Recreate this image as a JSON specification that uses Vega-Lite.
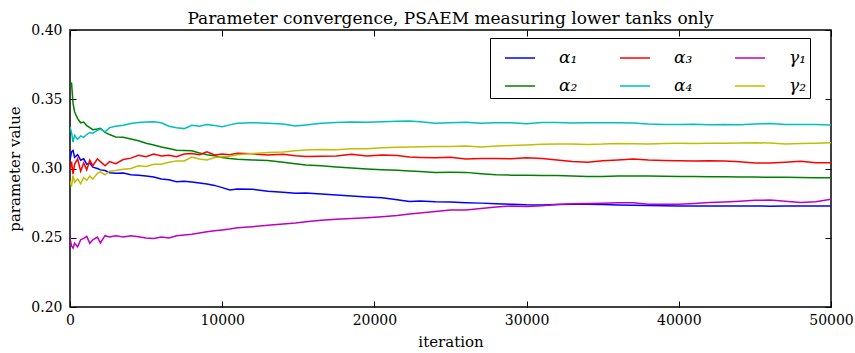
{
  "$schema": "https://vega.github.io/schema/vega-lite/v6.json",
  "width": 761,
  "height": 277,
  "autosize": {"type": "none"},
  "padding": {"left": 70, "top": 30, "right": 24, "bottom": 46},
  "background": "white",
  "config": {
    "view": {"stroke": "black", "strokeWidth": 1.5},
    "font": "DejaVu Serif",
    "axis": {"grid": false, "domain": false, "labelFlush": false, "labelOverlap": false, "tickColor": "black", "tickSize": -6, "tickWidth": 1, "labelFont": "DejaVu Serif", "labelFontSize": 14, "labelColor": "black", "titleFont": "DejaVu Serif", "titleFontSize": 15, "titleFontWeight": "normal", "titleColor": "black"}
  },
  "title": {"text": "Parameter convergence, PSAEM measuring lower tanks only", "font": "DejaVu Serif", "fontSize": 17, "fontWeight": "normal", "color": "black", "anchor": "middle", "baseline": "bottom", "offset": -22},
  "data": {"values": [
    {"it": 0, "α₁": 0.306, "α₂": 0.359, "α₃": 0.299, "α₄": 0.330, "γ₁": 0.250, "γ₂": 0.291},
    {"it": 100, "α₁": 0.312, "α₂": 0.362, "α₃": 0.305, "α₄": 0.326, "γ₁": 0.244, "γ₂": 0.287},
    {"it": 200, "α₁": 0.313, "α₂": 0.347, "α₃": 0.296, "α₄": 0.319, "γ₁": 0.2425, "γ₂": 0.295},
    {"it": 300, "α₁": 0.308, "α₂": 0.341, "α₃": 0.303, "α₄": 0.324, "γ₁": 0.246, "γ₂": 0.290},
    {"it": 500, "α₁": 0.310, "α₂": 0.336, "α₃": 0.307, "α₄": 0.321, "γ₁": 0.2435, "γ₂": 0.2925},
    {"it": 700, "α₁": 0.306, "α₂": 0.333, "α₃": 0.298, "α₄": 0.3235, "γ₁": 0.2485, "γ₂": 0.289},
    {"it": 900, "α₁": 0.307, "α₂": 0.3335, "α₃": 0.304, "α₄": 0.3225, "γ₁": 0.2495, "γ₂": 0.2935},
    {"it": 1100, "α₁": 0.303, "α₂": 0.331, "α₃": 0.299, "α₄": 0.3245, "γ₁": 0.251, "γ₂": 0.2915},
    {"it": 1300, "α₁": 0.304, "α₂": 0.3295, "α₃": 0.306, "α₄": 0.326, "γ₁": 0.246, "γ₂": 0.2945},
    {"it": 1500, "α₁": 0.301, "α₂": 0.328, "α₃": 0.302, "α₄": 0.3255, "γ₁": 0.2485, "γ₂": 0.2925},
    {"it": 1800, "α₁": 0.300, "α₂": 0.3285, "α₃": 0.307, "α₄": 0.3275, "γ₁": 0.2505, "γ₂": 0.2965},
    {"it": 2000, "α₁": 0.299, "α₂": 0.329, "α₃": 0.305, "α₄": 0.3285, "γ₁": 0.2462, "γ₂": 0.2975},
    {"it": 2300, "α₁": 0.2985, "α₂": 0.326, "α₃": 0.302, "α₄": 0.3265, "γ₁": 0.2515, "γ₂": 0.2955},
    {"it": 2600, "α₁": 0.297, "α₂": 0.3245, "α₃": 0.305, "α₄": 0.3295, "γ₁": 0.2505, "γ₂": 0.298},
    {"it": 3000, "α₁": 0.2965, "α₂": 0.3228, "α₃": 0.3035, "α₄": 0.3305, "γ₁": 0.2515, "γ₂": 0.2985},
    {"it": 3500, "α₁": 0.2968, "α₂": 0.3225, "α₃": 0.3065, "α₄": 0.3312, "γ₁": 0.2505, "γ₂": 0.2995},
    {"it": 4000, "α₁": 0.2955, "α₂": 0.3213, "α₃": 0.3075, "α₄": 0.3325, "γ₁": 0.2515, "γ₂": 0.300},
    {"it": 4500, "α₁": 0.2952, "α₂": 0.320, "α₃": 0.3095, "α₄": 0.3332, "γ₁": 0.2508, "γ₂": 0.302},
    {"it": 5000, "α₁": 0.2945, "α₂": 0.3182, "α₃": 0.3085, "α₄": 0.3335, "γ₁": 0.2498, "γ₂": 0.3015},
    {"it": 5500, "α₁": 0.2938, "α₂": 0.317, "α₃": 0.3105, "α₄": 0.3338, "γ₁": 0.2495, "γ₂": 0.303},
    {"it": 6000, "α₁": 0.2925, "α₂": 0.3155, "α₃": 0.309, "α₄": 0.333, "γ₁": 0.2505, "γ₂": 0.303},
    {"it": 6500, "α₁": 0.2918, "α₂": 0.3145, "α₃": 0.3095, "α₄": 0.3305, "γ₁": 0.2498, "γ₂": 0.3045},
    {"it": 7000, "α₁": 0.2905, "α₂": 0.3132, "α₃": 0.3085, "α₄": 0.3295, "γ₁": 0.2515, "γ₂": 0.3055},
    {"it": 7500, "α₁": 0.2908, "α₂": 0.313, "α₃": 0.3105, "α₄": 0.3288, "γ₁": 0.252, "γ₂": 0.3055},
    {"it": 8000, "α₁": 0.2903, "α₂": 0.3128, "α₃": 0.3108, "α₄": 0.3312, "γ₁": 0.2525, "γ₂": 0.3083},
    {"it": 8500, "α₁": 0.2895, "α₂": 0.3112, "α₃": 0.3100, "α₄": 0.3305, "γ₁": 0.2535, "γ₂": 0.3068},
    {"it": 9000, "α₁": 0.2888, "α₂": 0.3100, "α₃": 0.3120, "α₄": 0.3318, "γ₁": 0.2544, "γ₂": 0.3062},
    {"it": 9500, "α₁": 0.2878, "α₂": 0.3092, "α₃": 0.3098, "α₄": 0.3310, "γ₁": 0.2550, "γ₂": 0.3080},
    {"it": 10000, "α₁": 0.2862, "α₂": 0.3080, "α₃": 0.3105, "α₄": 0.3302, "γ₁": 0.2556, "γ₂": 0.3085},
    {"it": 10500, "α₁": 0.2845, "α₂": 0.3072, "α₃": 0.3100, "α₄": 0.3315, "γ₁": 0.2563, "γ₂": 0.3088},
    {"it": 11000, "α₁": 0.2852, "α₂": 0.3067, "α₃": 0.3110, "α₄": 0.3326, "γ₁": 0.2572, "γ₂": 0.3100},
    {"it": 12000, "α₁": 0.2850, "α₂": 0.3062, "α₃": 0.3106, "α₄": 0.3331, "γ₁": 0.2580, "γ₂": 0.3108},
    {"it": 13000, "α₁": 0.2836, "α₂": 0.3057, "α₃": 0.3098, "α₄": 0.3327, "γ₁": 0.2590, "γ₂": 0.3116},
    {"it": 14000, "α₁": 0.2828, "α₂": 0.3045, "α₃": 0.3103, "α₄": 0.3321, "γ₁": 0.2600, "γ₂": 0.3120},
    {"it": 14800, "α₁": 0.2822, "α₂": 0.3035, "α₃": 0.3092, "α₄": 0.3307, "γ₁": 0.2607, "γ₂": 0.3128},
    {"it": 15500, "α₁": 0.2823, "α₂": 0.3026, "α₃": 0.3086, "α₄": 0.3314, "γ₁": 0.2615, "γ₂": 0.3134},
    {"it": 16500, "α₁": 0.2815, "α₂": 0.3019, "α₃": 0.3089, "α₄": 0.3326, "γ₁": 0.2627, "γ₂": 0.3138},
    {"it": 17500, "α₁": 0.2808, "α₂": 0.3011, "α₃": 0.3091, "α₄": 0.3333, "γ₁": 0.2634, "γ₂": 0.3135},
    {"it": 18500, "α₁": 0.2802, "α₂": 0.3003, "α₃": 0.3102, "α₄": 0.3335, "γ₁": 0.2639, "γ₂": 0.3142},
    {"it": 19500, "α₁": 0.2795, "α₂": 0.2996, "α₃": 0.3091, "α₄": 0.3334, "γ₁": 0.2645, "γ₂": 0.3143},
    {"it": 20500, "α₁": 0.2788, "α₂": 0.2991, "α₃": 0.3097, "α₄": 0.3338, "γ₁": 0.2652, "γ₂": 0.3149},
    {"it": 21500, "α₁": 0.2775, "α₂": 0.2987, "α₃": 0.3093, "α₄": 0.3342, "γ₁": 0.2660, "γ₂": 0.3153},
    {"it": 22300, "α₁": 0.2762, "α₂": 0.2982, "α₃": 0.3083, "α₄": 0.3343, "γ₁": 0.2672, "γ₂": 0.3156},
    {"it": 23000, "α₁": 0.2765, "α₂": 0.2978, "α₃": 0.3080, "α₄": 0.3338, "γ₁": 0.2678, "γ₂": 0.3157},
    {"it": 24000, "α₁": 0.2760, "α₂": 0.2972, "α₃": 0.3078, "α₄": 0.3326, "γ₁": 0.2689, "γ₂": 0.3158},
    {"it": 25000, "α₁": 0.2758, "α₂": 0.2973, "α₃": 0.3081, "α₄": 0.3330, "γ₁": 0.2700, "γ₂": 0.3158},
    {"it": 26000, "α₁": 0.2753, "α₂": 0.2972, "α₃": 0.3069, "α₄": 0.3334, "γ₁": 0.2701, "γ₂": 0.3162},
    {"it": 27000, "α₁": 0.2750, "α₂": 0.2962, "α₃": 0.3073, "α₄": 0.3327, "γ₁": 0.2711, "γ₂": 0.3155},
    {"it": 28000, "α₁": 0.2745, "α₂": 0.2954, "α₃": 0.3072, "α₄": 0.3330, "γ₁": 0.2722, "γ₂": 0.3162},
    {"it": 29000, "α₁": 0.2742, "α₂": 0.2952, "α₃": 0.3070, "α₄": 0.3331, "γ₁": 0.2730, "γ₂": 0.3166},
    {"it": 30000, "α₁": 0.2738, "α₂": 0.2951, "α₃": 0.3078, "α₄": 0.3323, "γ₁": 0.2726, "γ₂": 0.3170},
    {"it": 31000, "α₁": 0.2737, "α₂": 0.2950, "α₃": 0.3073, "α₄": 0.3332, "γ₁": 0.2731, "γ₂": 0.3175},
    {"it": 32000, "α₁": 0.2740, "α₂": 0.2949, "α₃": 0.3062, "α₄": 0.3333, "γ₁": 0.2740, "γ₂": 0.3177},
    {"it": 33000, "α₁": 0.2742, "α₂": 0.2946, "α₃": 0.3050, "α₄": 0.3328, "γ₁": 0.2746, "γ₂": 0.3176},
    {"it": 34000, "α₁": 0.2742, "α₂": 0.2942, "α₃": 0.3046, "α₄": 0.3331, "γ₁": 0.2748, "γ₂": 0.3174},
    {"it": 35000, "α₁": 0.2740, "α₂": 0.2943, "α₃": 0.3056, "α₄": 0.3331, "γ₁": 0.2749, "γ₂": 0.3176},
    {"it": 36000, "α₁": 0.2736, "α₂": 0.2946, "α₃": 0.3061, "α₄": 0.3331, "γ₁": 0.2752, "γ₂": 0.3181},
    {"it": 37000, "α₁": 0.2734, "α₂": 0.2946, "α₃": 0.3068, "α₄": 0.3328, "γ₁": 0.2753, "γ₂": 0.3178},
    {"it": 38000, "α₁": 0.2732, "α₂": 0.2946, "α₃": 0.3061, "α₄": 0.3321, "γ₁": 0.2742, "γ₂": 0.3177},
    {"it": 39000, "α₁": 0.2731, "α₂": 0.2944, "α₃": 0.3058, "α₄": 0.3318, "γ₁": 0.2742, "γ₂": 0.3181},
    {"it": 40000, "α₁": 0.2730, "α₂": 0.2943, "α₃": 0.3056, "α₄": 0.3318, "γ₁": 0.2742, "γ₂": 0.3182},
    {"it": 41000, "α₁": 0.2730, "α₂": 0.2942, "α₃": 0.3054, "α₄": 0.3320, "γ₁": 0.2747, "γ₂": 0.3181},
    {"it": 42000, "α₁": 0.2729, "α₂": 0.2941, "α₃": 0.3056, "α₄": 0.3315, "γ₁": 0.2754, "γ₂": 0.3182},
    {"it": 43000, "α₁": 0.2729, "α₂": 0.2940, "α₃": 0.3055, "α₄": 0.3318, "γ₁": 0.2758, "γ₂": 0.3183},
    {"it": 44000, "α₁": 0.2729, "α₂": 0.2939, "α₃": 0.3048, "α₄": 0.3316, "γ₁": 0.2764, "γ₂": 0.3185},
    {"it": 45000, "α₁": 0.2729, "α₂": 0.2938, "α₃": 0.3040, "α₄": 0.3322, "γ₁": 0.2770, "γ₂": 0.3186},
    {"it": 46000, "α₁": 0.2728, "α₂": 0.2937, "α₃": 0.3040, "α₄": 0.3325, "γ₁": 0.2772, "γ₂": 0.3184},
    {"it": 47000, "α₁": 0.2729, "α₂": 0.2936, "α₃": 0.3046, "α₄": 0.3317, "γ₁": 0.2763, "γ₂": 0.3177},
    {"it": 48000, "α₁": 0.2729, "α₂": 0.2935, "α₃": 0.3053, "α₄": 0.3318, "γ₁": 0.2754, "γ₂": 0.3181},
    {"it": 49000, "α₁": 0.2729, "α₂": 0.2934, "α₃": 0.3042, "α₄": 0.3318, "γ₁": 0.2760, "γ₂": 0.3183},
    {"it": 50000, "α₁": 0.2729, "α₂": 0.2933, "α₃": 0.3042, "α₄": 0.3314, "γ₁": 0.2778, "γ₂": 0.3186}
  ]},
  "transform": [{"fold": ["α₁", "α₂", "α₃", "α₄", "γ₁", "γ₂"], "as": ["param", "val"]}],
  "layer": [
    {
      "mark": {"type": "line", "strokeWidth": 1.5, "clip": true},
      "encoding": {
        "x": {"field": "it", "type": "quantitative", "scale": {"domain": [0, 50000], "nice": false, "zero": false, "padding": 0},
              "axis": {"orient": "bottom", "values": [0, 10000, 20000, 30000, 40000, 50000], "format": "d", "title": "iteration", "labelPadding": 12, "titlePadding": 7}},
        "y": {"field": "val", "type": "quantitative", "scale": {"domain": [0.2, 0.4], "nice": false, "zero": false, "padding": 0},
              "axis": {"orient": "left", "values": [0.2, 0.25, 0.3, 0.35, 0.4], "format": ".2f", "title": "parameter value", "labelPadding": 14, "titlePadding": 8}},
        "color": {"field": "param", "type": "nominal",
                  "scale": {"domain": ["α₁", "α₃", "γ₁", "α₂", "α₄", "γ₂"], "range": ["#0000ff", "#ff0000", "#bf00bf", "#008000", "#00bfbf", "#bfbf00"]},
                  "legend": {"title": null, "orient": "none", "legendX": 420, "legendY": 8, "columns": 3, "direction": "horizontal",
                             "symbolType": "stroke", "symbolSize": 900, "symbolStrokeWidth": 1.5, "symbolOffset": 10, "labelOffset": 23,
                             "labelFont": "DejaVu Serif", "labelFontStyle": "italic", "labelFontSize": 17, "labelColor": "black",
                             "columnPadding": 31, "rowPadding": 4, "padding": 4, "strokeColor": "black", "fillColor": "white", "cornerRadius": 0}},
        "detail": {"field": "param"}
      }
    },
    {
      "mark": {"type": "line", "opacity": 0},
      "encoding": {
        "x": {"field": "it", "type": "quantitative", "scale": {"domain": [0, 50000], "nice": false, "zero": false, "padding": 0},
              "axis": {"orient": "top", "values": [0, 10000, 20000, 30000, 40000, 50000], "labels": false, "title": null}},
        "y": {"field": "val", "type": "quantitative", "scale": {"domain": [0.2, 0.4], "nice": false, "zero": false, "padding": 0},
              "axis": {"orient": "right", "values": [0.2, 0.25, 0.3, 0.35, 0.4], "labels": false, "title": null}},
        "detail": {"field": "param"}
      }
    }
  ],
  "resolve": {"axis": {"x": "independent", "y": "independent"}}
}
